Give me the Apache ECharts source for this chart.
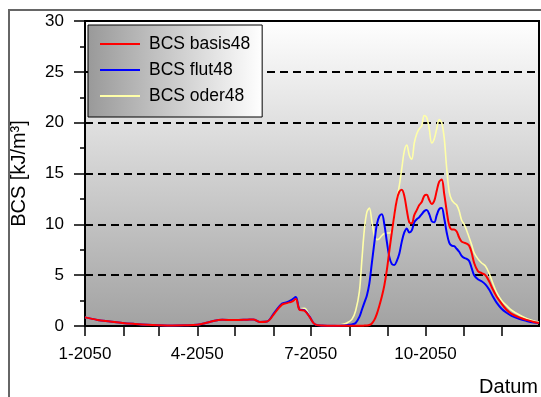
<!DOCTYPE html>
<html>
<head>
<meta charset="utf-8">
<script src="https://cdn.jsdelivr.net/npm/echarts@6/dist/echarts.min.js"></script>
<style>
  html, body { margin: 0; padding: 0; background: #fff; }
  #chart { width: 541px; height: 397px; }
</style>
</head>
<body>
<div id="chart"></div>
<script>
// Day offsets from 1 Jan 2050 at which the BCS values are sampled
const days = [0,10,20,30,40,50,60,70,80,90,100,110,120,130,135,140,146,152,158,162,166,169,172,176,180,184,190,
  200,206,210,214,217,220,222,224,226,228,230,232,234,236,238,240,242,244,246,248,250,252,254,256,258,260,262,264,266,268,
  270,272,274,276,278,280,282,284,286,288,290,292,294,296,298,300,302,304,306,308,310,312,315,318,321,324,327,330,334,338,
  342,348,354,360,364];

// BCS [kJ/m³] per scenario
const basis48 = [0.85,0.6,0.45,0.3,0.2,0.12,0.08,0.06,0.07,0.12,0.4,0.62,0.58,0.62,0.65,0.4,0.45,1.25,2.1,2.25,2.4,2.65,1.6,1.5,0.9,0.2,0.05,
  0.03,0.03,0.03,0.03,0.03,0.03,0.03,0.04,0.05,0.1,0.25,0.6,1.2,2.0,2.9,4.0,5.5,7.4,9.2,10.9,12.4,13.2,13.4,12.8,11.4,10.2,10.1,10.9,11.4,11.9,
  12.2,12.8,12.9,12.4,12.0,12.3,13.3,14.2,14.4,13.0,11.3,9.9,9.5,9.5,9.3,8.7,8.3,8.2,8.1,7.9,7.2,6.2,5.4,5.2,5.0,4.4,3.6,2.9,2.2,1.6,
  1.2,0.85,0.6,0.4,0.3];

const flut48 = [0.85,0.6,0.45,0.3,0.2,0.12,0.08,0.06,0.07,0.12,0.4,0.62,0.58,0.62,0.65,0.4,0.45,1.35,2.2,2.35,2.6,2.85,1.65,1.55,0.95,0.2,0.05,
  0.03,0.05,0.08,0.15,0.3,0.9,1.6,2.3,3.0,4.2,6.2,8.2,10.0,10.8,11.0,10.0,8.3,6.8,6.1,6.0,6.4,7.1,8.3,9.2,9.6,9.2,9.4,10.2,10.5,10.7,
  11.0,11.3,11.4,11.0,10.3,10.2,10.9,11.5,11.6,10.6,9.2,8.2,7.9,7.85,7.6,7.3,6.9,6.7,6.6,6.4,5.7,5.0,4.6,4.4,4.1,3.6,2.9,2.3,1.7,1.3,
  1.0,0.7,0.5,0.35,0.3];

const oder48 = [0.85,0.6,0.45,0.3,0.2,0.12,0.08,0.06,0.07,0.12,0.4,0.62,0.58,0.62,0.65,0.4,0.45,1.25,2.1,2.25,2.4,2.6,1.7,1.75,1.0,0.2,0.05,
  0.05,0.15,0.3,0.65,1.5,3.4,6.5,9.5,11.2,11.6,10.3,8.9,8.5,8.6,8.9,9.1,9.15,9.15,9.4,10.8,12.5,13.8,15.5,17.2,17.8,16.8,16.4,18.0,18.9,19.4,
  19.7,20.7,20.5,19.4,18.0,18.4,19.4,20.3,20.0,18.5,15.5,13.2,12.4,12.1,11.9,11.3,10.4,10.0,9.4,8.7,8.0,7.2,6.6,6.2,5.9,5.2,4.2,3.3,2.5,2.0,
  1.55,1.1,0.75,0.5,0.4];

const seriesNames = ['BCS basis48', 'BCS flut48', 'BCS oder48'];
const yTicks = { min: 0, max: 30, step: 5 };

function toTime(d) { return new Date(2050, 0, 1 + d).getTime(); }
function pairs(values) { return days.map((d, i) => [toTime(d), values[i]]); }

const FONT = '"Liberation Sans", Arial, sans-serif';
const chart = echarts.init(document.getElementById('chart'), null, { renderer: 'canvas' });

chart.setOption({
  animation: false,
  backgroundColor: '#ffffff',
  textStyle: { fontFamily: FONT },
  graphic: [{
    type: 'rect', z: -10, silent: true,
    shape: { x: 9, y: 10, width: 700, height: 600 },
    style: { fill: 'none', stroke: '#666', lineWidth: 2 }
  }],
  grid: {
    left: 85, top: 21, right: 1, bottom: 71,
    show: true,
    borderColor: '#000', borderWidth: 2,
    backgroundColor: new echarts.graphic.LinearGradient(0, 0, 0, 1, [
      { offset: 0, color: '#ffffff' },
      { offset: 1, color: '#a2a2a2' }
    ])
  },
  legend: {
    data: seriesNames,
    orient: 'vertical',
    left: 88, top: 25,
    padding: [9, 12, 11, 12],
    itemGap: 6,
    icon: 'rect',
    itemWidth: 40, itemHeight: 2,
    backgroundColor: new echarts.graphic.LinearGradient(0, 0, 1, 0, [
      { offset: 0, color: '#999999' },
      { offset: 1, color: '#ffffff' }
    ]),
    borderColor: '#000', borderWidth: 1,
    textStyle: { fontFamily: FONT, fontSize: 17.5, color: '#000', lineHeight: 20, padding: [0, 0, 0, 4] }
  },
  xAxis: {
    type: 'time',
    min: toTime(0), max: toTime(364),
    splitNumber: 12,
    name: 'Datum',
    nameLocation: 'end',
    nameGap: -1,
    nameTextStyle: { fontFamily: FONT, fontSize: 20, color: '#000', align: 'right', verticalAlign: 'top', padding: [51, 0, 0, 0] },
    axisLine: { show: true, onZero: false, lineStyle: { color: '#000', width: 2 } },
    axisTick: { show: true, inside: false, length: 10, lineStyle: { color: '#000', width: 1.5 } },
    axisLabel: {
      fontFamily: FONT, fontSize: 17, color: '#000', margin: 20,
      showMaxLabel: false,
      formatter: function (val) {
        const d = new Date(val);
        if (d.getDate() !== 1 || d.getMonth() % 3 !== 0) return '';
        return (d.getMonth() + 1) + '-' + d.getFullYear();
      }
    },
    splitLine: { show: false }
  },
  yAxis: {
    type: 'value',
    min: yTicks.min, max: yTicks.max, interval: yTicks.step,
    name: 'BCS [kJ/m³]',
    nameLocation: 'middle',
    nameGap: 56,
    nameTextStyle: { fontFamily: FONT, fontSize: 20, color: '#000' },
    axisLine: { show: true, lineStyle: { color: '#000', width: 2 } },
    axisTick: { show: true, inside: false, length: 11, lineStyle: { color: '#000', width: 1.5 } },
    minorTick: { show: true, splitNumber: 2, length: 5, lineStyle: { color: '#000', width: 1.5 } },
    axisLabel: { fontFamily: FONT, fontSize: 17, color: '#000', margin: 21 },
    splitLine: { show: true, lineStyle: { color: '#000', width: 2, type: [8, 5] } }
  },
  series: [
    {
      name: seriesNames[2], type: 'line', data: pairs(oder48), symbol: 'none', smooth: 0.35,
      lineStyle: { color: '#ffffa8', width: 1.6 }, itemStyle: { color: '#ffffa8' }, z: 2
    },
    {
      name: seriesNames[1], type: 'line', data: pairs(flut48), symbol: 'none', smooth: 0.35,
      lineStyle: { color: '#0000ff', width: 2 }, itemStyle: { color: '#0000ff' }, z: 3
    },
    {
      name: seriesNames[0], type: 'line', data: pairs(basis48), symbol: 'none', smooth: 0.35,
      lineStyle: { color: '#ff0000', width: 2 }, itemStyle: { color: '#ff0000' }, z: 4
    }
  ]
});
</script>
</body>
</html>
